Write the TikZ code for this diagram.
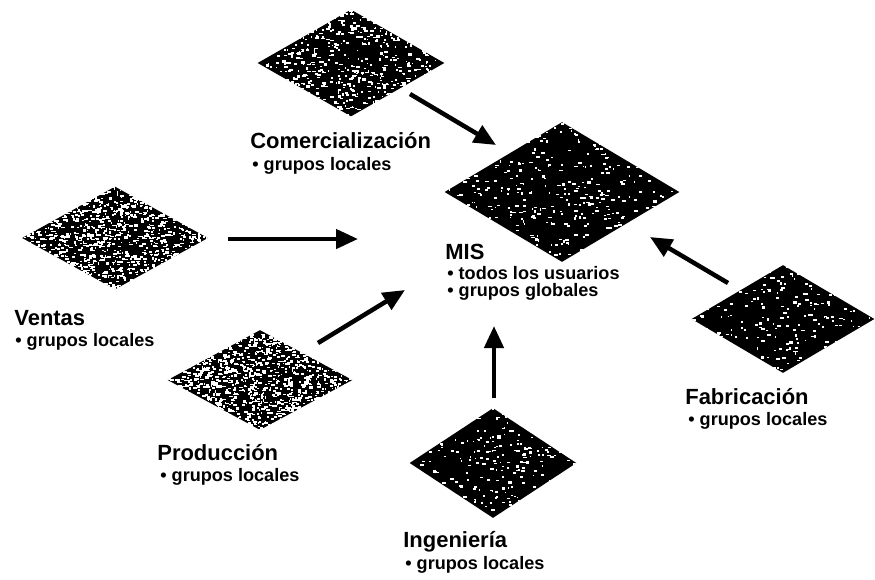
\documentclass[tikz,border=0pt]{standalone}
\usepackage{fontspec}
\setmainfont{Liberation Sans}
\usepackage{tikz}
\usetikzlibrary{shapes.geometric}
\usetikzlibrary{arrows.meta}
\usetikzlibrary{calc}

% white grain over a site: node, half width, half height, count
\newcommand{\grain}[4]{%
  \begin{scope}
    \clip (#1.north) -- (#1.east) -- (#1.south) -- (#1.west) -- cycle;
    \foreach \k in {1,...,#4}
      \fill[white] ($(#1)+(rand*#2,rand*#3)$) rectangle ++(1+3*rnd,1+1.5*rnd);
  \end{scope}}

\begin{document}
\begin{tikzpicture}[x=0.02cm,y=-0.02cm,
    site/.style={diamond,inner sep=0pt,draw=none,fill=black},
    flow/.style={line width=0.09cm,-{Triangle[length=0.44cm,width=0.38cm]}},
    title/.style={anchor=base west,inner sep=0pt,font=\bfseries\fontsize{12.5}{14}\selectfont},
    sub/.style={anchor=base west,inner sep=0pt,font=\bfseries\fontsize{10.3}{12}\selectfont}]
    \useasboundingbox (0,0) rectangle (875,579);
    \pgfmathsetseed{17}

    % sites
    \node[site,minimum width=3.74cm,minimum height=2.14cm] (com) at (351,63) {};
    \node[site,minimum width=4.7cm,minimum height=2.8cm] (mis) at (562,192) {};
    \node[site,minimum width=3.72cm,minimum height=2.06cm] (ven) at (115,238) {};
    \node[site,minimum width=3.7cm,minimum height=2.0cm] (pro) at (260,380) {};
    \node[site,minimum width=3.66cm,minimum height=2.16cm] (fab) at (783,319) {};
    \node[site,minimum width=3.34cm,minimum height=2.2cm] (ing) at (493,463) {};

    \grain{com}{94}{54}{800}
    \grain{mis}{118}{70}{500}
    \grain{ven}{93}{52}{1500}
    \grain{pro}{93}{50}{1500}
    \grain{fab}{92}{54}{300}
    \grain{ing}{84}{55}{300}

    % labels
    \node[title] (com-t) at (250,148) {Comercialización};
    \node[sub] (com-s) at (252,170) {\textbullet\ grupos locales};
    \node[title] (mis-t) at (445,259) {MIS};
    \node[sub] (mis-s1) at (447,279) {\textbullet\ todos los usuarios};
    \node[sub] (mis-s2) at (447,296) {\textbullet\ grupos globales};
    \node[title] (ven-t) at (14,325) {Ventas};
    \node[sub] (ven-s) at (15,346) {\textbullet\ grupos locales};
    \node[title] (pro-t) at (157,460) {Producción};
    \node[sub] (pro-s) at (160,481) {\textbullet\ grupos locales};
    \node[title] (fab-t) at (685,404) {Fabricación};
    \node[sub] (fab-s) at (688,425) {\textbullet\ grupos locales};
    \node[title] (ing-t) at (403,547) {Ingeniería};
    \node[sub] (ing-s) at (405,569) {\textbullet\ grupos locales};

    % arrow ends
    \coordinate (com-o) at (410,94);
    \coordinate (mis-a) at (496,145);
    \coordinate (ven-o) at (228,239);
    \coordinate (mis-b) at (358,239);
    \coordinate (pro-o) at (318,343);
    \coordinate (mis-c) at (405,290);
    \coordinate (ing-o) at (494,398);
    \coordinate (mis-d) at (494,326);
    \coordinate (fab-o) at (728,283);
    \coordinate (mis-e) at (650,237);

    \draw[flow] (com-o) -- (mis-a);
    \draw[flow] (ven-o) -- (mis-b);
    \draw[flow] (pro-o) -- (mis-c);
    \draw[flow] (ing-o) -- (mis-d);
    \draw[flow] (fab-o) -- (mis-e);
\end{tikzpicture}
\end{document}
